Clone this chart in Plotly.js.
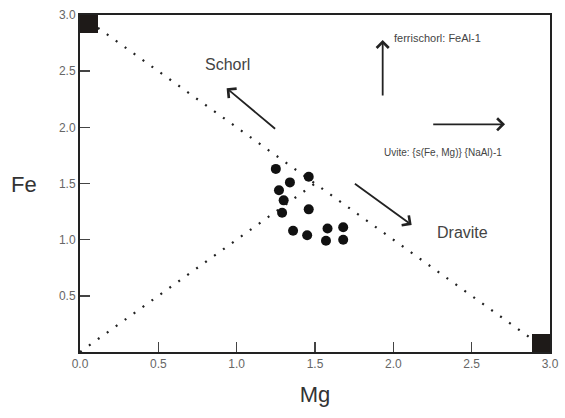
<!DOCTYPE html>
<html>
<head>
<meta charset="utf-8">
<script src="https://cdn.plot.ly/plotly-3.0.1.min.js"></script>
<style>html,body{margin:0;padding:0;background:#fff;}#chart{width:565px;height:418px;}</style>
</head>
<body>
<div id="chart"></div>
<script>
// Sample compositions (Mg, Fe apfu)
const sampleMg = [1.25, 1.34, 1.46, 1.27, 1.30, 1.46, 1.29, 1.36, 1.45, 1.58, 1.68, 1.57, 1.68];
const sampleFe = [1.63, 1.51, 1.56, 1.44, 1.35, 1.27, 1.24, 1.08, 1.04, 1.10, 1.11, 0.99, 1.00];

// Schorl–dravite join and Fe = Mg line
const joinMg = [0, 3];
const joinFe = [3, 0];
const equalMg = [0, 1.5];
const equalFe = [0, 1.5];

// End-member corners
const endMg = [0, 3];
const endFe = [3, 0];

// Tick values
const xTicks = [0, 0.5, 1.0, 1.5, 2.0, 2.5, 3.0];
const yTicks = [0.5, 1.0, 1.5, 2.0, 2.5, 3.0];

// Vector annotations: [tailX, tailY, headX, headY]
const arrowSchorl = [1.255, 1.976, 0.936, 2.348];
const arrowDravite = [1.745, 1.507, 2.117, 1.131];
const arrowFerri = [1.932, 2.27, 1.932, 2.777];
const arrowUvite = [2.245, 2.027, 2.713, 2.027];

// Labels: [text, x, y, size, anchor]
const labels = [
  ["Schorl", 0.94, 2.555, 16, "center"],
  ["Dravite", 2.44, 1.068, 16, "center"],
  ["ferrischorl: FeAl-1", 1.99, 2.795, 11, "left"],
  ["Uvite: {s(Fe, Mg)} {NaAl)-1", 1.93, 1.78, 10, "left"]
];

const dotLine = {color: '#222', width: 2.2, dash: '2px,9px'};

const traces = [
  {x: joinMg, y: joinFe, mode: 'lines', line: dotLine, hoverinfo: 'skip'},
  {x: equalMg, y: equalFe, mode: 'lines', line: dotLine, hoverinfo: 'skip'},
  {x: endMg, y: endFe, mode: 'markers', cliponaxis: true,
   marker: {symbol: 'square', size: 36, color: '#1e1a18'}, hoverinfo: 'skip'},
  {x: sampleMg, y: sampleFe, mode: 'markers',
   marker: {symbol: 'circle', size: 10, color: '#111'}}
];

function arrow(a) {
  return {x: a[2], y: a[3], ax: a[0], ay: a[1], xref: 'x', yref: 'y', axref: 'x', ayref: 'y',
          text: '', showarrow: true, arrowhead: 4, arrowsize: 1.3, arrowwidth: 1.8, arrowcolor: '#222'};
}

const annotations = [arrowSchorl, arrowDravite, arrowFerri, arrowUvite].map(arrow)
  .concat(labels.map(l => ({
    text: l[0], x: l[1], y: l[2], xref: 'x', yref: 'y', showarrow: false,
    xanchor: l[4], yanchor: 'middle',
    font: {family: 'Liberation Sans, Arial, sans-serif', size: l[3], color: '#444'}
  })))
  .concat([{text: 'Fe', x: -0.12, y: 0.496, xref: 'paper', yref: 'paper', showarrow: false,
            xanchor: 'center', yanchor: 'middle',
            font: {family: 'Liberation Sans, Arial, sans-serif', size: 22, color: '#333'}}]);

const axisCommon = {
  range: [0, 3], showgrid: false, zeroline: false, showline: true, mirror: true,
  linecolor: '#222', linewidth: 2, ticks: 'inside', ticklen: 10, tickwidth: 1.5, tickcolor: '#444',
  tickformat: '.1f', tickfont: {family: 'Liberation Sans, Arial, sans-serif', size: 12, color: '#666'}
};

const layout = {
  width: 565, height: 418,
  margin: {l: 80, r: 15, t: 15, b: 66},
  paper_bgcolor: '#fff', plot_bgcolor: '#fff',
  showlegend: false,
  xaxis: Object.assign({}, axisCommon, {
    tickvals: xTicks,
    title: {text: 'Mg', standoff: 16, font: {family: 'Liberation Sans, Arial, sans-serif', size: 22, color: '#333'}}
  }),
  yaxis: Object.assign({}, axisCommon, {tickvals: yTicks}),
  annotations: annotations
};

Plotly.newPlot('chart', traces, layout, {displayModeBar: false, staticPlot: true});
</script>
</body>
</html>
